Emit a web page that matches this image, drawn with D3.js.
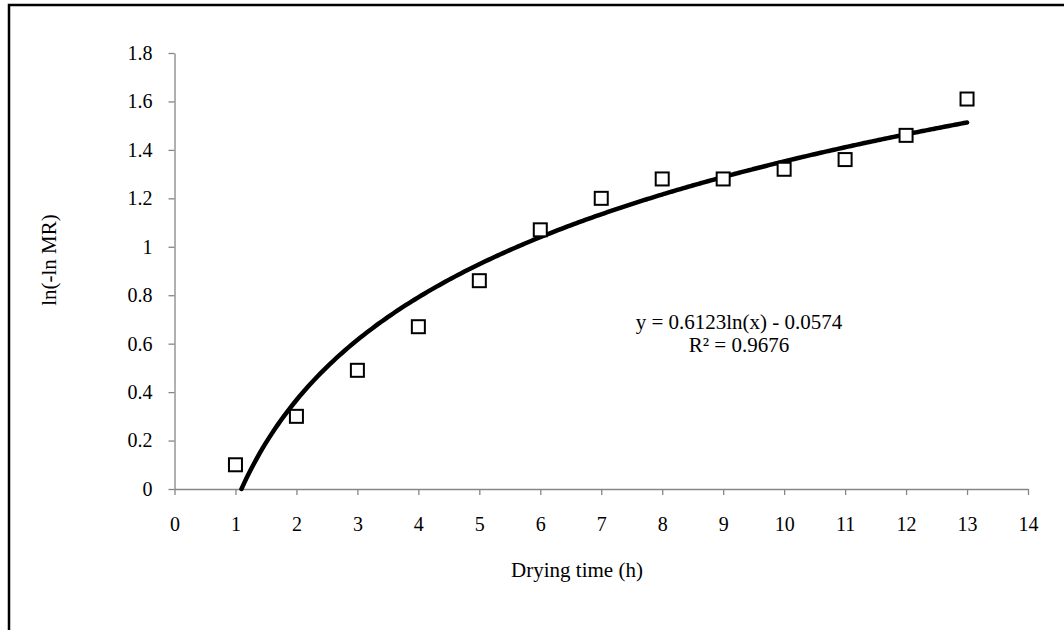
<!DOCTYPE html>
<html>
<head>
<meta charset="utf-8">
<script src="https://cdn.jsdelivr.net/npm/d3@7"></script>
<style>
  body { margin: 0; background: #fff; }
  svg { display: block; }
  text { font-family: "Liberation Serif", "Times New Roman", serif; fill: #000; }
</style>
</head>
<body>
<script>
var w = 1064;
var h = 630;

// drying time (h) and ln(-ln MR)
var hours = [1, 2, 3, 4, 5, 6, 7, 8, 9, 10, 11, 12, 13];
var lnlnMR = [0.10, 0.30, 0.49, 0.67, 0.86, 1.07, 1.20, 1.28, 1.28, 1.32, 1.36, 1.46, 1.61];
var xTicks = [0, 1, 2, 3, 4, 5, 6, 7, 8, 9, 10, 11, 12, 13, 14];
var yTicks = [0, 0.2, 0.4, 0.6, 0.8, 1, 1.2, 1.4, 1.6, 1.8];
// fitted trendline y = a ln(x) + b
var fitA = 0.6123;
var fitB = -0.0574;
var equationLines = ["y = 0.6123ln(x) - 0.0574", "R\u00b2 = 0.9676"];

var xScale = d3.scaleLinear().domain([0, 14]).range([174.5, 1028]);
var yScale = d3.scaleLinear().domain([0, 1.8]).range([489, 53]);

var svg = d3.select("body").append("svg")
  .attr("width", w)
  .attr("height", h);

// chart area border (only top and left edge are in view)
svg.append("rect")
  .attr("x", 9).attr("y", 5)
  .attr("width", 1100).attr("height", 700)
  .attr("fill", "none")
  .attr("stroke", "#000")
  .attr("stroke-width", 2.5);

var xAxis = d3.axisBottom(xScale)
  .tickValues(xTicks)
  .tickSizeInner(6).tickSizeOuter(0)
  .tickPadding(22)
  .tickFormat(d3.format("d"));

var yAxis = d3.axisLeft(yScale)
  .tickValues(yTicks)
  .tickSizeInner(6).tickSizeOuter(0)
  .tickPadding(16)
  .tickFormat(function(d) { return d3.format("")(+d.toFixed(1)); });

var gx = svg.append("g")
  .attr("transform", "translate(0," + yScale(0) + ")")
  .call(xAxis);

var gy = svg.append("g")
  .attr("transform", "translate(" + xScale(0) + ",0)")
  .call(yAxis);

[gx, gy].forEach(function(g) {
  g.selectAll("path, line").attr("stroke", "#868686").attr("stroke-width", 1.3);
  g.selectAll("text").attr("font-size", 20).attr("fill", "#000")
    .style("font-family", "'Liberation Serif', 'Times New Roman', serif");
});

// trendline, starting where it crosses y = 0
var xStart = Math.exp(-fitB / fitA);
var curvePts = d3.range(xStart, 13.0001, 0.05).map(function(x) {
  return [x, fitA * Math.log(x) + fitB];
});
curvePts.push([13, fitA * Math.log(13) + fitB]);

var line = d3.line()
  .x(function(d) { return xScale(d[0]); })
  .y(function(d) { return yScale(d[1]); })
  .curve(d3.curveMonotoneX);

svg.append("path")
  .datum(curvePts)
  .attr("d", line)
  .attr("fill", "none")
  .attr("stroke", "#000")
  .attr("stroke-width", 4.5)
  .attr("stroke-linecap", "round");

// square markers
var size = 13;
svg.selectAll("rect.pt")
  .data(hours)
  .enter()
  .append("rect")
  .attr("class", "pt")
  .attr("x", function(d) { return xScale(d) - size / 2; })
  .attr("y", function(d, i) { return yScale(lnlnMR[i]) - size / 2; })
  .attr("width", size)
  .attr("height", size)
  .attr("fill", "#fff")
  .attr("stroke", "#000")
  .attr("stroke-width", 2);

// equation label
svg.append("g").selectAll("text")
  .data(equationLines)
  .enter()
  .append("text")
  .attr("x", 739)
  .attr("y", function(d, i) { return 329 + i * 23; })
  .attr("text-anchor", "middle")
  .attr("font-size", 21)
  .text(function(d) { return d; });

// axis titles
svg.append("text")
  .attr("x", 577)
  .attr("y", 577)
  .attr("text-anchor", "middle")
  .attr("font-size", 21)
  .text("Drying time (h)");

svg.append("text")
  .attr("transform", "translate(56,260) rotate(-90)")
  .attr("text-anchor", "middle")
  .attr("font-size", 21)
  .text("ln(-ln MR)");
</script>
</body>
</html>
